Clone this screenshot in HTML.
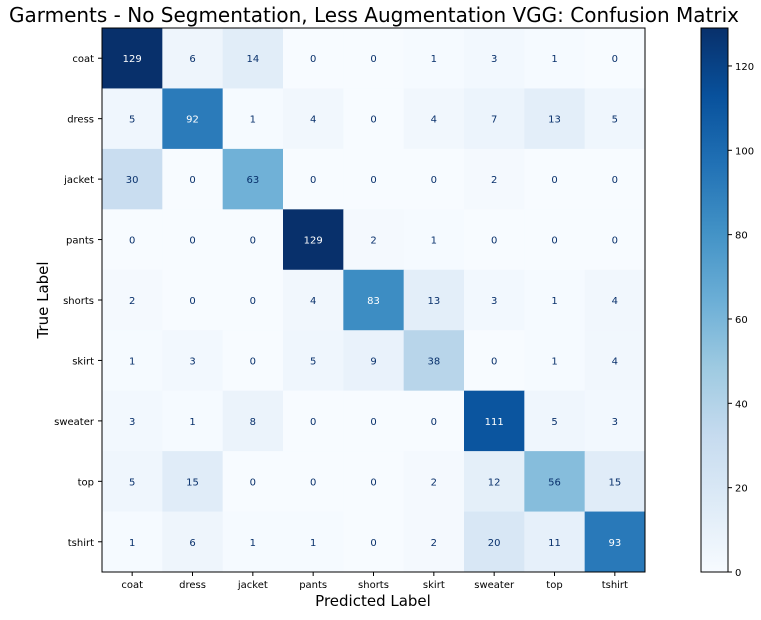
<!DOCTYPE html>
<html><head><meta charset="utf-8"><style>
body{margin:0;background:#fff;width:761px;height:615px;overflow:hidden}
svg{font-family:"DejaVu Sans","Liberation Sans",sans-serif}
</style></head><body>
<svg id="chart" width="761" height="615" xmlns="http://www.w3.org/2000/svg">
<defs><linearGradient id="cbg" x1="0" y1="1" x2="0" y2="0">
<stop offset="0" stop-color="#f7fbff"/><stop offset="0.125" stop-color="#deebf7"/><stop offset="0.25" stop-color="#c6dbef"/><stop offset="0.375" stop-color="#9ecae1"/><stop offset="0.5" stop-color="#6baed6"/><stop offset="0.625" stop-color="#4292c6"/><stop offset="0.75" stop-color="#2171b5"/><stop offset="0.875" stop-color="#08519c"/><stop offset="1" stop-color="#08306b"/></linearGradient></defs>
<text x="374" y="22" font-size="20" text-anchor="middle" textLength="730" lengthAdjust="spacingAndGlyphs" fill="#000">Garments - No Segmentation, Less Augmentation VGG: Confusion Matrix</text>
<g id="cells"></g>
<rect x="102" y="28" width="543" height="544" fill="none" stroke="#000" stroke-width="1"/>
<g id="ticks"></g>
<text x="373" y="606" font-size="15" text-anchor="middle">Predicted Label</text>
<text transform="translate(48,300) rotate(-90)" font-size="15" text-anchor="middle">True Label</text>
<rect x="701" y="28" width="27" height="544" fill="url(#cbg)" stroke="#000" stroke-width="1"/>
<g id="cbticks"></g>
</svg>
<script>
const labels=["coat","dress","jacket","pants","shorts","skirt","sweater","top","tshirt"];
const matrix=[
[129,6,14,0,0,1,3,1,0],
[5,92,1,4,0,4,7,13,5],
[30,0,63,0,0,0,2,0,0],
[0,0,0,129,2,1,0,0,0],
[2,0,0,4,83,13,3,1,4],
[1,3,0,5,9,38,0,1,4],
[3,1,8,0,0,0,111,5,3],
[5,15,0,0,0,2,12,56,15],
[1,6,1,1,0,2,20,11,93]];
const cbTicks=[0,20,40,60,80,100,120];
const NS="http://www.w3.org/2000/svg";
const stops=["#f7fbff","#deebf7","#c6dbef","#9ecae1","#6baed6","#4292c6","#2171b5","#08519c","#08306b"].map(h=>[1,3,5].map(i=>parseInt(h.substr(i,2),16)));
const vmax=Math.max(...matrix.flat());
function color(v){let t=v/vmax*8;let i=Math.min(7,Math.floor(t));let f=t-i;const a=stops[i],b=stops[i+1];return `rgb(${a.map((c,k)=>Math.round(c+(b[k]-c)*f)).join(",")})`;}
const x0=102,y0=28,W=543,H=544,n=labels.length,cw=W/n,ch=H/n;
const xs=i=>x0+i*cw, ys=i=>y0+i*ch;
function mk(tag,attrs,parent,txt){const e=document.createElementNS(NS,tag);for(const k in attrs)e.setAttribute(k,attrs[k]);if(txt!==undefined)e.textContent=txt;parent.appendChild(e);return e;}
const cells=document.getElementById("cells"),ticks=document.getElementById("ticks"),cbt=document.getElementById("cbticks");
matrix.forEach((row,r)=>row.forEach((v,c)=>{
 const rc=mk("rect",{x:xs(c),y:ys(r),width:cw+0.5,height:ch+0.5,fill:color(v)},cells);
 
 
 const t=mk("text",{x:xs(c)+cw/2,y:ys(r)+ch/2+4,"font-size":10,"text-anchor":"middle",fill:v>vmax/2?"#fff":"#08306b"},cells,v);
 
 
}));
labels.forEach((l,i)=>{
 const cx=xs(i)+cw/2;
 mk("line",{x1:cx,x2:cx,y1:572,y2:576,stroke:"#000"},ticks);
 const tx=mk("text",{x:cx,y:588,"font-size":10,"text-anchor":"middle"},ticks,l);
 
 
 const cy=ys(i)+ch/2;
 mk("line",{x1:98,x2:102,y1:cy,y2:cy,stroke:"#000"},ticks);
 const ty=mk("text",{x:94,y:cy+4,"font-size":10,"text-anchor":"end"},ticks,l);
 
 
});
cbTicks.forEach(v=>{
 const y=572-v/vmax*544;
 mk("line",{x1:728,x2:732,y1:y,y2:y,stroke:"#000"},cbt);
 const t=mk("text",{x:735,y:y+4,"font-size":10},cbt,v);
 
 
});
</script>
</body></html>
